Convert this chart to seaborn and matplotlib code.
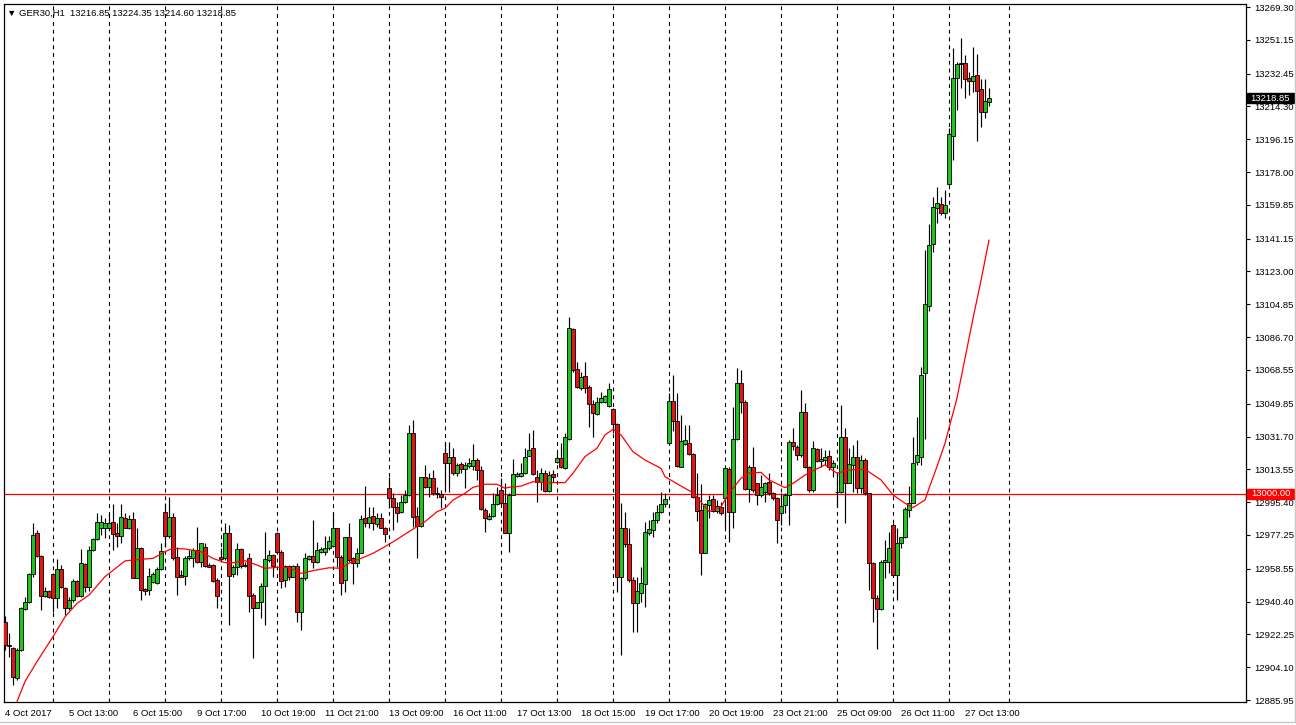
import numpy as np
import pandas as pd
import matplotlib
matplotlib.use("Agg")
import matplotlib.pyplot as plt
import matplotlib.transforms as mtransforms
from matplotlib.patches import Rectangle
from matplotlib.lines import Line2D
import seaborn as sns

# ---------------- data (GER30, H1) ----------------
opens = [
    12929.3, 12916.4, 12914.9, 12898.0, 12913.6, 12936.1, 12940.4, 12955.5, 12978.2, 12965.7,
    12943.7, 12946.3, 12955.5, 12942.2, 12958.3, 12947.8, 12937.1, 12941.3, 12952.0, 12943.7,
    12961.0, 12948.7, 12969.0, 12974.9, 12981.0, 12981.3, 12981.3, 12984.3, 12978.6, 12976.4,
    12986.5, 12981.3, 12986.1, 12953.6, 12970.3, 12947.2, 12946.8, 12951.5, 12950.5, 12958.3,
    12989.8, 12976.4, 12987.0, 12965.3, 12955.1, 12954.6, 12964.4, 12964.4, 12969.0, 12962.5,
    12970.8, 12960.7, 12960.7, 12952.4, 12964.9, 12964.4, 12978.2, 12955.5, 12959.4, 12969.3,
    12960.1, 12964.7, 12944.1, 12937.1, 12940.0, 12949.1, 12963.4, 12966.2, 12978.2, 12968.1,
    12952.4, 12960.1, 12954.2, 12960.1, 12934.9, 12953.3, 12963.8, 12965.6, 12962.5, 12968.1,
    12968.1, 12969.9,
    12971.1, 12980.9, 12965.3, 12952.4, 12975.9, 12964.3, 12961.9, 12967.1, 12986.5, 12984.1,
    12987.7, 12983.3, 12986.8, 12981.3, 13003.1, 12997.5, 12992.9, 12989.8, 12995.7, 12999.4,
    13033.9, 12987.7, 12982.4, 13009.5, 13003.6, 13008.6, 13000.7, 12999.7, 13022.8, 13016.9,
    13020.2, 13011.7, 13016.3, 13013.6, 13015.4, 13015.4, 13018.7, 13013.2, 12991.1, 12985.9,
    12987.7, 12994.4, 13002.1, 12994.8, 12978.5, 12999.4, 13010.1, 13009.9, 13011.4, 13020.9,
    13025.2, 13009.5, 13006.7, 13011.7, 13001.8, 13010.8, 13017.8, 13019.7, 13014.1, 13030.2,
    13091.0, 13069.1, 13058.4, 13065.2, 13058.9, 13049.7, 13044.2, 13051.0, 13051.0, 13048.8,
    13046.7, 13038.6, 12954.2, 12980.9, 12972.3, 12952.4, 12939.4, 12945.3, 12950.1, 12978.5,
    12980.0, 12985.5,
    12990.2, 12994.4, 13028.3, 13051.6, 13040.5, 13015.0, 13027.6, 13027.9, 13021.9, 12998.5,
    12991.0, 12967.1, 12993.8, 12997.0, 12990.7, 12992.9, 12997.5, 13013.6, 12990.2, 13030.2,
    13061.5, 13051.0, 13002.5, 13015.0, 13005.8, 12999.4, 13001.2, 13006.7, 13000.6, 12997.5,
    12989.6, 12993.8, 12999.4, 13028.9, 13025.7, 13021.5, 13045.5, 13015.1, 13002.1, 13024.6,
    13018.4, 13018.7, 13020.9, 13014.6, 13000.8, 13000.8, 13031.3, 13006.2, 13016.0, 13020.6,
    13003.0, 13018.7, 13000.6, 12961.6, 12942.2, 12936.1, 12962.1, 12962.5, 12982.8, 12955.1,
    12972.6, 12975.9, 12991.1, 12995.1, 13017.8, 13020.6, 13066.7, 13104.1, 13138.0, 13157.9,
    13160.4, 13155.2, 13171.2, 13198.1, 13229.9, 13237.6, 13238.2, 13229.9, 13228.6, 13231.7,
    13224.0, 13211.4, 13216.85,
]
highs = [
    12932.5, 12923.2, 12915.5, 12914.6, 12937.6, 12943.2, 12956.1, 12983.7, 12980.0, 12966.2,
    12948.7, 12946.8, 12956.1, 12964.0, 12960.7, 12948.3, 12943.2, 12952.9, 12952.4, 12969.3,
    12961.6, 12971.4, 12975.4, 12989.3, 12988.3, 12986.5, 12988.7, 12994.4, 12983.7, 12994.4,
    12989.3, 12988.3, 12989.8, 12981.0, 12970.8, 12947.8, 12958.8, 12957.0, 12959.8, 12972.7,
    12995.2, 12998.1, 12989.3, 12970.8, 12957.9, 12965.6, 12969.0, 12969.9, 12981.9, 12973.0,
    12972.7, 12961.6, 12961.0, 12953.3, 12969.9, 12983.7, 12982.8, 12960.7, 12972.7, 12969.9,
    12962.5, 12967.1, 12945.0, 12940.4, 12950.5, 12979.1, 12969.0, 12966.8, 12979.1, 12969.0,
    12960.7, 12960.7, 12960.7, 12961.6, 12954.2, 12967.1, 12966.2, 12985.6, 12973.6, 12970.8,
    12976.4, 12976.4,
    12989.2, 12980.9, 12966.2, 12976.3, 12983.7, 12965.3, 12969.9, 12988.3, 13004.3, 12992.9,
    12992.9, 12989.2, 12989.2, 12981.8, 13009.1, 13000.3, 12995.7, 12999.4, 13002.1, 13038.1,
    13040.9, 12992.9, 13009.5, 13016.0, 13011.4, 13013.2, 13004.0, 13002.1, 13028.9, 13028.9,
    13025.2, 13016.9, 13017.8, 13017.8, 13019.6, 13027.6, 13019.6, 13015.4, 12992.0, 12989.2,
    13000.3, 13004.0, 13008.6, 13005.8, 13000.3, 13019.1, 13012.3, 13016.9, 13025.2, 13033.5,
    13035.3, 13013.2, 13014.1, 13013.2, 13012.8, 13013.2, 13022.8, 13027.9, 13033.5, 13098.0,
    13091.6, 13073.1, 13067.6, 13073.1, 13060.2, 13051.9, 13053.8, 13056.5, 13054.7, 13061.1,
    13047.3, 13039.0, 12994.8, 12990.1, 12980.9, 12954.2, 12954.2, 12959.7, 12984.6, 12985.5,
    12990.1, 12993.8,
    13001.2, 13000.3, 13055.6, 13065.8, 13055.6, 13043.6, 13038.1, 13038.1, 13022.4, 13011.4,
    13005.4, 12994.8, 12999.4, 12999.4, 12996.6, 12995.7, 13015.1, 13015.1, 13048.2, 13069.4,
    13068.5, 13051.9, 13016.0, 13025.7, 13005.8, 13010.4, 13006.7, 13011.4, 13001.2, 12998.5,
    13000.3, 13000.3, 13029.8, 13036.2, 13027.1, 13057.5, 13050.1, 13015.4, 13029.2, 13025.2,
    13025.2, 13024.3, 13024.3, 13018.7, 13012.3, 13049.2, 13036.2, 13025.2, 13027.0, 13029.8,
    13021.5, 13019.6, 13000.6, 12962.5, 12944.1, 12963.4, 12974.5, 12979.0, 12983.7, 12980.9,
    12976.3, 12992.9, 13004.3, 13031.6, 13042.7, 13070.3, 13134.7, 13149.3, 13164.4, 13169.9,
    13164.4, 13168.1, 13202.2, 13246.5, 13239.1, 13252.0, 13242.8, 13233.6, 13247.0, 13243.3,
    13229.3, 13229.3, 13224.35,
]
lows = [
    12913.6, 12910.0, 12894.3, 12897.1, 12913.3, 12935.8, 12939.8, 12954.2, 12964.9, 12935.8,
    12943.2, 12942.2, 12934.9, 12936.7, 12947.8, 12933.0, 12935.8, 12940.4, 12943.2, 12943.2,
    12945.9, 12946.3, 12968.6, 12974.5, 12977.3, 12975.4, 12980.0, 12969.0, 12970.8, 12972.7,
    12981.0, 12980.6, 12953.3, 12953.3, 12941.3, 12944.1, 12944.1, 12950.5, 12950.2, 12957.9,
    12970.8, 12975.4, 12963.4, 12944.1, 12953.8, 12949.6, 12963.4, 12959.7, 12962.0, 12959.7,
    12959.7, 12959.4, 12951.5, 12936.7, 12963.4, 12963.4, 12927.5, 12954.2, 12955.1, 12958.8,
    12959.7, 12934.9, 12909.0, 12936.7, 12931.2, 12927.5, 12962.5, 12954.2, 12967.5, 12947.8,
    12948.7, 12952.4, 12953.8, 12929.3, 12924.7, 12952.4, 12963.4, 12958.8, 12961.6, 12967.1,
    12966.2, 12969.0,
    12970.8, 12959.7, 12944.0, 12945.9, 12962.5, 12950.1, 12959.7, 12967.1, 12981.9, 12980.9,
    12980.0, 12981.8, 12980.9, 12973.6, 12992.0, 12980.0, 12984.6, 12989.2, 12994.8, 12998.8,
    12981.8, 12964.3, 12981.8, 13003.1, 12998.4, 12999.4, 12997.5, 12992.0, 13002.1, 13001.2,
    13010.4, 13009.9, 13011.4, 13003.1, 13014.1, 13013.2, 13007.7, 12991.1, 12979.1, 12985.5,
    12987.4, 12993.8, 12993.8, 12978.1, 12968.0, 12999.4, 13009.5, 13009.5, 13010.8, 13020.9,
    13010.4, 12995.7, 13002.1, 13001.2, 13001.2, 13006.7, 13017.2, 13014.1, 13013.6, 13029.8,
    13067.6, 13058.4, 13057.5, 13055.6, 13037.2, 13031.6, 13043.6, 13050.1, 13050.1, 13048.2,
    13033.5, 12945.9, 12910.9, 12970.8, 12951.4, 12923.8, 12923.8, 12940.4, 12937.6, 12977.2,
    12976.3, 12983.7,
    12989.2, 12992.9, 13028.0, 13035.0, 13015.0, 13015.0, 13027.0, 13021.5, 12997.5, 12985.2,
    12955.1, 12967.1, 12986.5, 12990.1, 12989.2, 12988.3, 12980.9, 12973.6, 12980.9, 13029.8,
    13044.5, 13002.1, 12995.7, 13001.2, 12993.8, 12998.5, 12995.7, 12999.4, 12996.6, 12973.0,
    12982.8, 12989.2, 12982.8, 13024.3, 13018.7, 13020.6, 13014.1, 13001.2, 13001.2, 13017.8,
    13015.1, 13016.0, 13013.2, 13009.5, 12992.9, 13000.3, 12983.7, 13005.8, 13001.2, 13000.3,
    13000.3, 12999.4, 12946.8, 12929.3, 12914.0, 12935.7, 12953.3, 12956.0, 12954.2, 12941.3,
    12969.9, 12975.4, 12987.4, 12994.8, 13016.0, 13016.0, 13030.2, 13101.3, 13134.0, 13150.0,
    13154.3, 13152.8, 13170.9, 13184.7, 13212.4, 13224.3, 13219.2, 13220.6, 13222.5, 13195.4,
    13203.1, 13208.1, 13214.60,
]
closes = [
    12916.4, 12916.0, 12898.9, 12913.6, 12936.7, 12940.0, 12955.5, 12977.3, 12965.7, 12943.7,
    12946.3, 12943.2, 12942.2, 12958.3, 12948.3, 12937.1, 12941.3, 12952.0, 12943.7, 12961.6,
    12948.7, 12969.0, 12974.9, 12984.3, 12984.3, 12983.7, 12983.7, 12977.6, 12976.4, 12987.0,
    12981.3, 12986.1, 12953.6, 12970.3, 12946.8, 12946.5, 12954.6, 12955.5, 12958.3, 12968.6,
    12976.4, 12987.0, 12964.7, 12953.8, 12954.2, 12964.7, 12965.6, 12969.0, 12962.5, 12972.7,
    12960.1, 12959.7, 12952.0, 12943.5, 12964.2, 12978.2, 12954.6, 12959.4, 12969.3, 12960.1,
    12960.1, 12943.7, 12936.7, 12940.0, 12949.1, 12963.8, 12966.2, 12960.1, 12968.1, 12952.0,
    12960.1, 12954.2, 12960.1, 12934.9, 12953.3, 12964.4, 12965.6, 12962.5, 12969.0, 12969.3,
    12970.3, 12973.9,
    12980.9, 12965.3, 12950.5, 12976.3, 12963.4, 12961.6, 12967.1, 12985.9, 12984.1, 12987.4,
    12983.7, 12986.5, 12981.3, 12977.8, 12997.5, 12992.5, 12989.6, 12995.7, 12999.4, 13033.5,
    12987.4, 12982.4, 13009.1, 13003.6, 13009.0, 13000.3, 12999.7, 12998.1, 13016.9, 13020.2,
    13011.7, 13016.0, 13013.6, 13016.0, 13016.9, 13018.7, 13013.2, 12991.4, 12986.5, 12987.7,
    12994.4, 12999.4, 12994.8, 12978.5, 12999.4, 13011.0, 13011.0, 13011.4, 13020.6, 13024.3,
    13011.0, 13006.7, 13011.7, 13001.8, 13010.4, 13009.5, 13019.7, 13014.7, 13031.6, 13091.6,
    13068.5, 13058.9, 13064.8, 13058.4, 13049.7, 13044.5, 13050.6, 13052.8, 13054.1, 13057.8,
    13038.6, 12954.2, 12980.9, 12972.3, 12952.4, 12939.4, 12946.4, 12950.5, 12978.7, 12980.4,
    12985.5, 12990.1,
    12994.4, 12997.0, 13051.6, 13040.5, 13015.4, 13029.4, 13029.8, 13021.9, 12998.5, 12990.7,
    12967.5, 12994.4, 12996.6, 12990.7, 12993.5, 12989.2, 13014.1, 12990.2, 13030.2, 13061.5,
    13051.0, 13002.5, 13015.0, 13002.1, 12999.4, 13004.0, 13006.2, 13000.3, 12997.5, 12985.5,
    12993.5, 12999.4, 13028.9, 13026.5, 13021.5, 13045.5, 13015.1, 13002.1, 13025.2, 13018.4,
    13019.1, 13020.6, 13014.6, 13017.3, 13000.8, 13031.3, 13006.2, 13016.5, 13020.6, 13003.0,
    13018.7, 13000.3, 12961.6, 12942.2, 12936.1, 12962.5, 12963.4, 12969.9, 12955.1, 12973.0,
    12975.9, 12991.6, 12995.1, 13017.3, 13021.3, 13065.8, 13105.0, 13137.7, 13158.5, 13160.9,
    13155.6, 13159.8, 13199.1, 13229.9, 13237.6, 13238.3, 13229.3, 13228.6, 13231.2, 13223.0,
    13211.4, 13217.3, 13218.85,
]

# moving average (red line), read at candle positions
ma_bar = [3, 5, 8, 12, 15, 18, 21, 25, 30, 32, 37, 40, 42, 45, 49, 52, 55, 57, 60, 63,
          65, 68, 71, 74, 77, 81, 84, 86, 89, 92, 95, 98, 101, 105, 108, 110, 112, 115, 117, 120,
          123, 125, 126, 129, 132, 135, 140, 142, 145, 148, 150, 152, 154, 157, 160, 164, 165, 169, 172, 175,
          176, 179, 181, 184, 186, 189, 191, 195, 197, 200, 202, 205, 208, 211, 215, 219, 222, 225, 227, 230,
          231, 233, 235, 238, 240, 242, 244, 246]
ma_value = [12885.1, 12896.2, 12907.2, 12921.0, 12932.0, 12939.4, 12944.0, 12954.2, 12962.9, 12963.4,
            12964.3, 12968.0, 12969.9, 12969.5, 12968.0, 12964.3, 12961.9, 12961.9, 12963.0, 12960.6,
            12958.8, 12959.3, 12959.3, 12956.0, 12957.5, 12959.1, 12958.8, 12961.6, 12964.3, 12967.1,
            12970.8, 12974.8, 12979.1, 12984.6, 12990.1, 12992.0, 12996.6, 13000.3, 13003.6, 13005.3,
            13005.3, 13003.1, 13003.6, 13004.3, 13006.7, 13006.2, 13006.2, 13011.4, 13020.6, 13025.2,
            13032.6, 13035.7, 13032.6, 13023.3, 13018.7, 13014.1, 13009.5, 13004.3, 13000.6, 12992.9,
            12990.1, 12992.9, 13000.3, 13008.6, 13011.4, 13011.9, 13007.7, 13003.4, 13005.8, 13010.4,
            13012.8, 13016.0, 13011.4, 13013.2, 13013.6, 13007.7, 12999.4, 12994.8, 12992.4, 12996.6,
            13003.0, 13015.1, 13028.0, 13053.0, 13075.0, 13097.0, 13118.0, 13140.4]

level_line = 13000.00
last_price = 13218.85
title_text = "\u25BC GER30,H1  13216.85 13224.35 13214.60 13218.85"

ytick_values = [13269.30, 13251.15, 13232.45, 13214.30, 13196.15, 13178.00, 13159.85, 13141.15,
                13123.00, 13104.85, 13086.70, 13068.55, 13049.85, 13031.70, 13013.55, 12995.40,
                12977.25, 12958.55, 12940.40, 12922.25, 12904.10, 12885.95]
xtick_bars = [0, 16, 32, 48, 64, 80, 96, 112, 128, 144, 160, 176, 192, 208, 224, 240]
xtick_labels = ["4 Oct 2017", "5 Oct 13:00", "6 Oct 15:00", "9 Oct 17:00", "10 Oct 19:00",
                "11 Oct 21:00", "13 Oct 09:00", "16 Oct 11:00", "17 Oct 13:00", "18 Oct 15:00",
                "19 Oct 17:00", "20 Oct 19:00", "23 Oct 21:00", "25 Oct 09:00", "26 Oct 11:00",
                "27 Oct 13:00"]
day_grid_bars = [12, 26, 40, 54, 68, 82, 96, 110, 124, 138, 152, 166, 180, 194, 208, 222, 236, 251]

assert len(opens) == len(highs) == len(lows) == len(closes) == 247
assert len(ma_bar) == len(ma_value)

# ---------------- style ----------------
sns.set_style("white")
plt.rcParams['font.family'] = ['Liberation Sans', 'DejaVu Sans']
FS = 6.8
GREEN = '#1fc41f'
RED = '#e01515'

W, H = 1296, 725
fig = plt.figure(figsize=(W / 100, H / 100), dpi=100)
fig.patch.set_facecolor('white')
ax = fig.add_axes([4 / W, 1 - 702 / H, 1242 / W, 698 / H])
ax.set_facecolor('white')

df = pd.DataFrame({'o': opens, 'h': highs, 'l': lows, 'c': closes})
df['i'] = np.arange(len(df))
bull = df['c'] >= df['o']

# grid (day separators)
for g in day_grid_bars:
    ax.axvline(g, color='black', lw=0.8, ls=(0, (3.5, 3.5)), zorder=0.5)

# level line
ax.axhline(level_line, color='#ff0000', lw=0.9, zorder=1)

# wicks
ax.vlines(df['i'], df['l'], df['h'], color='black', lw=0.85, zorder=2)
# bodies
body_bottom = np.minimum(df['o'], df['c'])
body_height = np.maximum((df['c'] - df['o']).abs(), 0.35)
ax.bar(df['i'], body_height, bottom=body_bottom, width=0.8,
       color=np.where(bull, GREEN, RED), edgecolor='black', linewidth=0.6, zorder=3)

# moving average
ma_df = pd.DataFrame({'bar': ma_bar, 'ma': ma_value})
sns.lineplot(data=ma_df, x='bar', y='ma', ax=ax, color='#ff0000', lw=0.9, zorder=4)

ax.set_xlim(-0.25, 310.25)
ax.set_ylim(12884.85, 13270.96)
ax.set_xlabel('')
ax.set_ylabel('')

# axes ticks
ax.yaxis.tick_right()
ax.set_yticks(ytick_values)
ax.set_yticklabels([f"{v:.2f}" for v in ytick_values])
ax.tick_params(axis='y', direction='out', length=3, width=0.8, pad=3, labelsize=FS, colors='black')
ax.set_xticks(xtick_bars)
ax.set_xticklabels(xtick_labels, ha='left')
ax.tick_params(axis='x', direction='out', length=3, width=0.8, pad=2, labelsize=FS, colors='black')
for lab in ax.get_xticklabels():
    lab.set_x(lab.get_position()[0])

for s in ax.spines.values():
    s.set_color('black')
    s.set_linewidth(0.9)
    s.set_visible(True)

# price boxes on the right scale
blend = mtransforms.blended_transform_factory(ax.transAxes, ax.transData)
box_x0 = 1.0008
box_w = 47 / 1242
box_h = 10 * (13270.96 - 12884.85) / 698
for val, fc in [(last_price, 'black'), (level_line, '#ff0000')]:
    ax.add_patch(Rectangle((box_x0, val - box_h / 2), box_w, box_h, transform=blend,
                           facecolor=fc, edgecolor=fc, clip_on=False, zorder=10))
    ax.text(box_x0 + box_w / 2, val, f"{val:.2f}", transform=blend, color='white',
            fontsize=FS, ha='center', va='center', clip_on=False, zorder=11)

# title
fig.text(7 / W, 1 - 13 / H, title_text, fontsize=FS, ha='left', va='center', color='black')

# window frame
fig.add_artist(Line2D([0, 1], [1 - 722 / H] * 2, transform=fig.transFigure, color='#c8c8c8', lw=1))
fig.add_artist(Line2D([1 - 1.5 / W] * 2, [1 - 722 / H, 1], transform=fig.transFigure, color='#c8c8c8', lw=1))

fig.savefig('out.png', dpi=100, facecolor='white')
